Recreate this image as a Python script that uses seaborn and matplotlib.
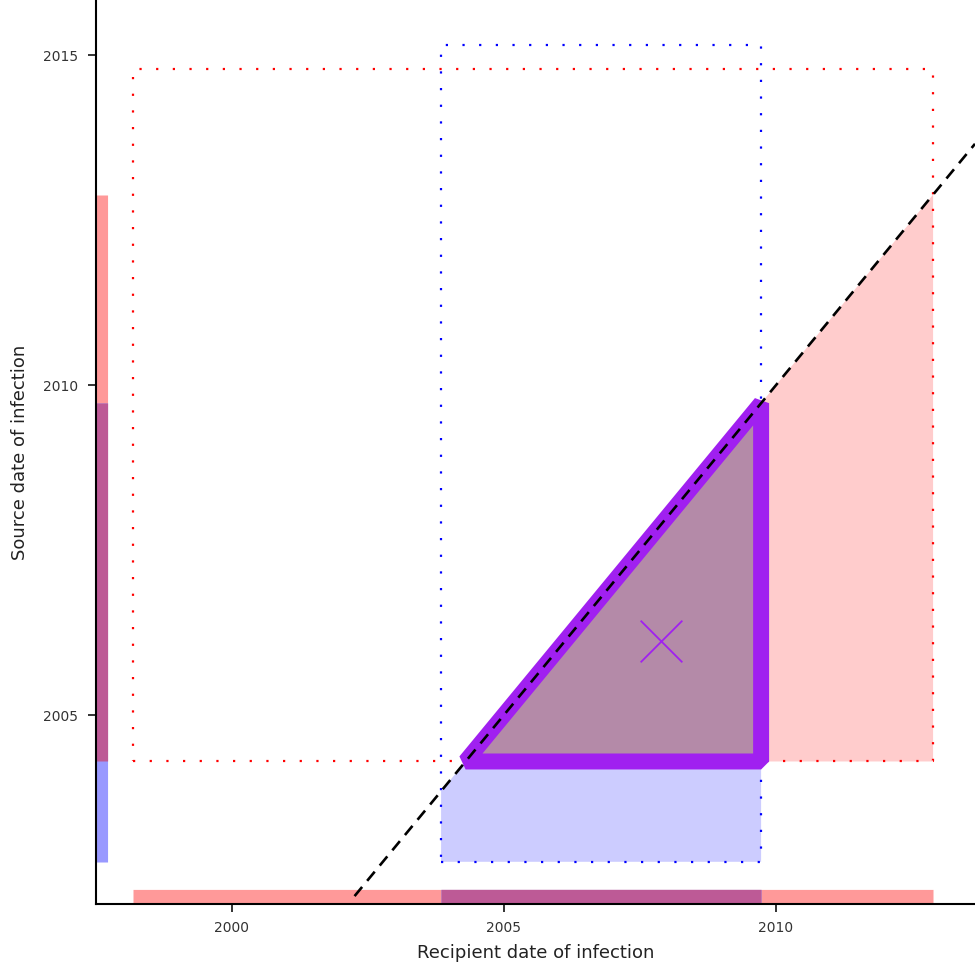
import matplotlib
matplotlib.use("Agg")
import matplotlib.pyplot as plt
import seaborn as sns
from matplotlib.patches import Polygon

# Infection-date windows in decimal years
recipient_red = [1998.19, 2012.89]
source_red = [2004.30, 2014.80]
recipient_blue = [2003.85, 2009.73]
source_blue = [2002.78, 2015.16]
point_estimate = [2007.89, 2006.12]  # (recipient, source)

x_ticks = [2000, 2005, 2010]
y_ticks = [2005, 2010, 2015]
x_limits = [1997.51, 2013.66]
y_limits = [2002.14, 2015.84]

RED_LINE = "#ff0000"
BLUE_LINE = "#0000ff"
RED_FILL = "#ffcccc"
BLUE_FILL = "#ccccff"
OVERLAP_FILL = "#b48aa8"
OVERLAP_EDGE = "#a020f0"
RED_BAR = "#ff9999"
BLUE_BAR = "#9999ff"
PURPLE_BAR = "#bd5a96"

sns.set_style("ticks")
plt.rcParams["font.family"] = ["DejaVu Sans"]

fig = plt.figure(figsize=(9.75, 9.68), dpi=100)
ax = fig.add_axes([0.0985, 0.0661, 0.9015, 0.9339])

rx0, rx1 = recipient_red
ry0, ry1 = source_red
bx0, bx1 = recipient_blue
by0, by1 = source_blue

# Feasible regions (source infected before recipient: y <= x)
red_only = Polygon([(bx1, ry0), (rx1, ry0), (rx1, rx1), (bx1, bx1)],
                   closed=True, facecolor=RED_FILL, edgecolor="none", zorder=1)
blue_only = Polygon([(bx0, by0), (bx1, by0), (bx1, ry0), (ry0, ry0), (bx0, bx0)],
                    closed=True, facecolor=BLUE_FILL, edgecolor="none", zorder=1)
ax.add_patch(red_only)
ax.add_patch(blue_only)

# Dotted bounding boxes of each window
dots = (0, (1, 6.5))
ax.plot([rx0, rx1, rx1, rx0, rx0], [ry0, ry0, ry1, ry1, ry0],
        color=RED_LINE, lw=1.6, linestyle=dots, zorder=2)
ax.plot([bx0, bx1, bx1, bx0, bx0], [by0, by0, by1, by1, by0],
        color=BLUE_LINE, lw=1.6, linestyle=dots, zorder=2)

# Overlap of both windows
overlap = Polygon([(ry0, ry0), (bx1, bx1), (bx1, ry0)], closed=True,
                  facecolor=OVERLAP_FILL, edgecolor=OVERLAP_EDGE, lw=11.5,
                  joinstyle="bevel", zorder=3)
ax.add_patch(overlap)

# Marginal bars: recipient (bottom) and source (left)
bar_y = y_limits[0] + 0.12
bar_x = x_limits[0] + 0.11
ax.plot([rx0, rx1], [bar_y, bar_y], color=RED_BAR, lw=9.5,
        solid_capstyle="butt", zorder=2)
ax.plot([bx0, bx1], [bar_y, bar_y], color=BLUE_BAR, lw=9.5,
        solid_capstyle="butt", zorder=2)
ax.plot([max(rx0, bx0), min(rx1, bx1)], [bar_y, bar_y], color=PURPLE_BAR, lw=9.5,
        solid_capstyle="butt", zorder=2)

src_red_top = min(ry1, rx1)
src_blue_top = min(by1, bx1)
ax.plot([bar_x, bar_x], [ry0, src_red_top], color=RED_BAR, lw=8,
        solid_capstyle="butt", zorder=2)
ax.plot([bar_x, bar_x], [by0, src_blue_top], color=BLUE_BAR, lw=8,
        solid_capstyle="butt", zorder=2)
ax.plot([bar_x, bar_x], [max(ry0, by0), min(src_red_top, src_blue_top)],
        color=PURPLE_BAR, lw=8, solid_capstyle="butt", zorder=2)

# Line of equal infection dates, starting at the recipient bar
ax.plot([bar_y, x_limits[1]], [bar_y, x_limits[1]], color="black", lw=1.9,
        linestyle=(0, (4.5, 3)), zorder=4)

# Point estimate
sns.scatterplot(x=[point_estimate[0]], y=[point_estimate[1]], marker="x",
                s=900, color=OVERLAP_EDGE, linewidth=1.3, ax=ax, zorder=5)

ax.set_xlim(x_limits)
ax.set_ylim(y_limits)
ax.set_xticks(x_ticks)
ax.set_yticks(y_ticks)
ax.set_xticklabels([str(t) for t in x_ticks])
ax.set_yticklabels([str(t) for t in y_ticks])
ax.tick_params(axis="both", direction="out", length=6, width=1.4,
               labelsize=10, labelcolor="#333333", color="#333333")
ax.tick_params(axis="x", pad=6)
ax.tick_params(axis="y", pad=7)
ax.set_xlabel("Recipient date of infection", fontsize=13, color="#222222", labelpad=7)
ax.set_ylabel("Source date of infection", fontsize=13, color="#222222", labelpad=10)

for side in ("top", "right"):
    ax.spines[side].set_visible(False)
for side in ("left", "bottom"):
    ax.spines[side].set_linewidth(1.5)
    ax.spines[side].set_color("black")

fig.savefig("out.png", dpi=100)
